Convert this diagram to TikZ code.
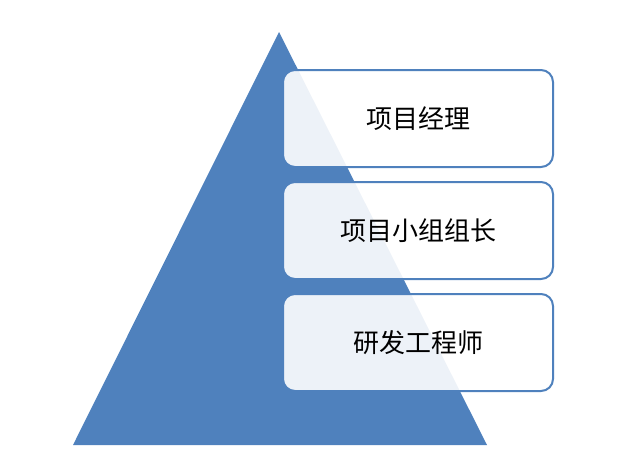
\documentclass[tikz,border=0pt]{standalone}
\usepackage{fontspec}
\newfontfamily\cjk{Noto Sans CJK SC}
\definecolor{triblue}{HTML}{4F81BD}
\begin{document}
\begin{tikzpicture}[x=1pt,y=-1pt,
  lvl/.style={draw=triblue,line width=2pt,fill=white,fill opacity=0.9,text opacity=1,rounded corners=12pt,minimum width=270pt,minimum height=97pt,font=\cjk\fontsize{26}{30}\selectfont}]
\useasboundingbox (0,0) rectangle (617,469);
\fill[triblue] (279,32) -- (487,445) -- (73,445) -- cycle;
\node[lvl] (a) at (418,118.5) {项目经理};
\node[lvl] (b) at (418,230.5) {项目小组组长};
\node[lvl] (c) at (418,342.5) {研发工程师};
\end{tikzpicture}
\end{document}
